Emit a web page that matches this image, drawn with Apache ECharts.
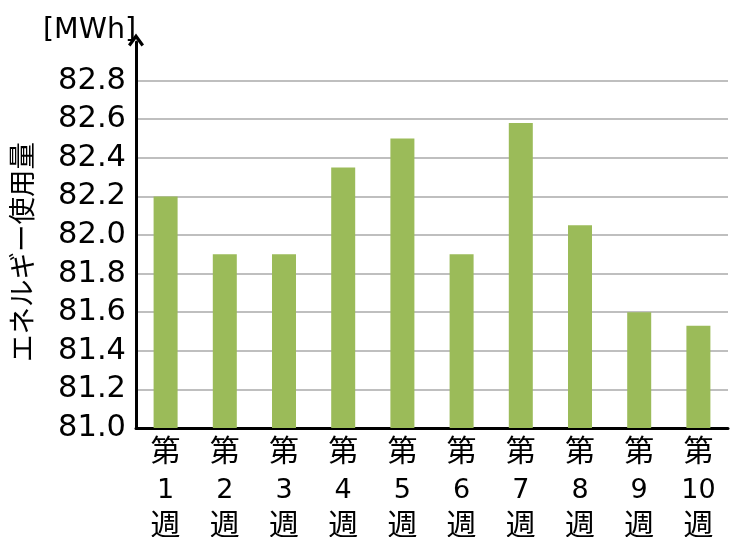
<!DOCTYPE html>
<html>
<head>
<meta charset="utf-8">
<script src="https://cdn.jsdelivr.net/npm/echarts@6/dist/echarts.min.js"></script>
<style>
  html, body { margin: 0; padding: 0; background: #fff; }
  #chart { width: 732px; height: 537px; }
</style>
</head>
<body>
<div id="chart"></div>
<script>
// Weekly energy use
const weeks = ['第1週', '第2週', '第3週', '第4週', '第5週', '第6週', '第7週', '第8週', '第9週', '第10週'];
const energyMWh = [82.2, 81.9, 81.9, 82.35, 82.5, 81.9, 82.58, 82.05, 81.6, 81.53];
const yMin = 81.0;
const yMax = 83.0;
const yStep = 0.2;
const unitLabel = '[MWh]';
const yAxisTitle = 'エネルギー使用量';

const FONT = '"DejaVu Sans", Verdana, "Noto Sans CJK JP", sans-serif';

// grey grid lines, the topmost one (at the arrow) left out
const nLines = Math.round((yMax - yMin) / yStep) + 1;
const gridColors = [];
for (let i = 0; i < nLines; i++) gridColors.push(i === nLines - 1 ? 'rgba(0,0,0,0)' : '#BFBFBF');

const chart = echarts.init(document.getElementById('chart'), null, { renderer: 'canvas' });
chart.setOption({
  animation: false,
  backgroundColor: '#ffffff',
  textStyle: { fontFamily: FONT },
  title: {
    text: unitLabel,
    left: 38,
    top: 11,
    textStyle: { fontFamily: FONT, fontSize: 28.5, fontWeight: 'normal', color: '#000' }
  },
  graphic: [{
    type: 'text',
    x: 25,
    y: 252,
    rotation: Math.PI / 2,
    style: {
      text: yAxisTitle,
      fontFamily: FONT,
      fontSize: 27.5,
      fill: '#000',
      align: 'center',
      verticalAlign: 'middle'
    }
  }],
  grid: { left: 136, right: 4, top: 42, bottom: 109, containLabel: false, outerBoundsMode: 'none' },
  xAxis: {
    type: 'category',
    data: weeks,
    axisLine: { show: true, lineStyle: { color: '#000', width: 3 } },
    axisTick: { show: false },
    axisLabel: {
      interval: 0,
      color: '#000',
      fontFamily: FONT,
      fontSize: 28,
      lineHeight: 37,
      margin: 7,
      formatter: v => v.replace(/^第(\d+)週$/, '{c|第}\n{n|$1}\n{c|週}'),
      rich: {
        c: { fontFamily: FONT, fontSize: 30, lineHeight: 37, color: '#000' },
        n: { fontFamily: FONT, fontSize: 27, lineHeight: 37, color: '#000' }
      }
    }
  },
  yAxis: {
    type: 'value',
    min: yMin,
    max: yMax,
    interval: yStep,
    axisLine: {
      show: true,
      lineStyle: { color: '#000', width: 3 },
      symbol: ['none', 'path://M0,11 L8,0 L16,11 L13.5,13 L8,5.5 L2.5,13 Z'],
      symbolSize: [16, 13],
      symbolOffset: [0, 2]
    },
    axisTick: { show: false },
    axisLabel: {
      color: '#000',
      fontFamily: FONT,
      fontSize: 30.5,
      margin: 10,
      showMaxLabel: false,
      formatter: v => (Math.abs(v - yMax) < 1e-9 ? '' : v.toFixed(1))
    },
    splitLine: { show: true, lineStyle: { color: gridColors, width: 2 } }
  },
  series: [{
    type: 'bar',
    data: energyMWh,
    barWidth: 24,
    itemStyle: { color: '#9BBB59' }
  }]
});
</script>
</body>
</html>
